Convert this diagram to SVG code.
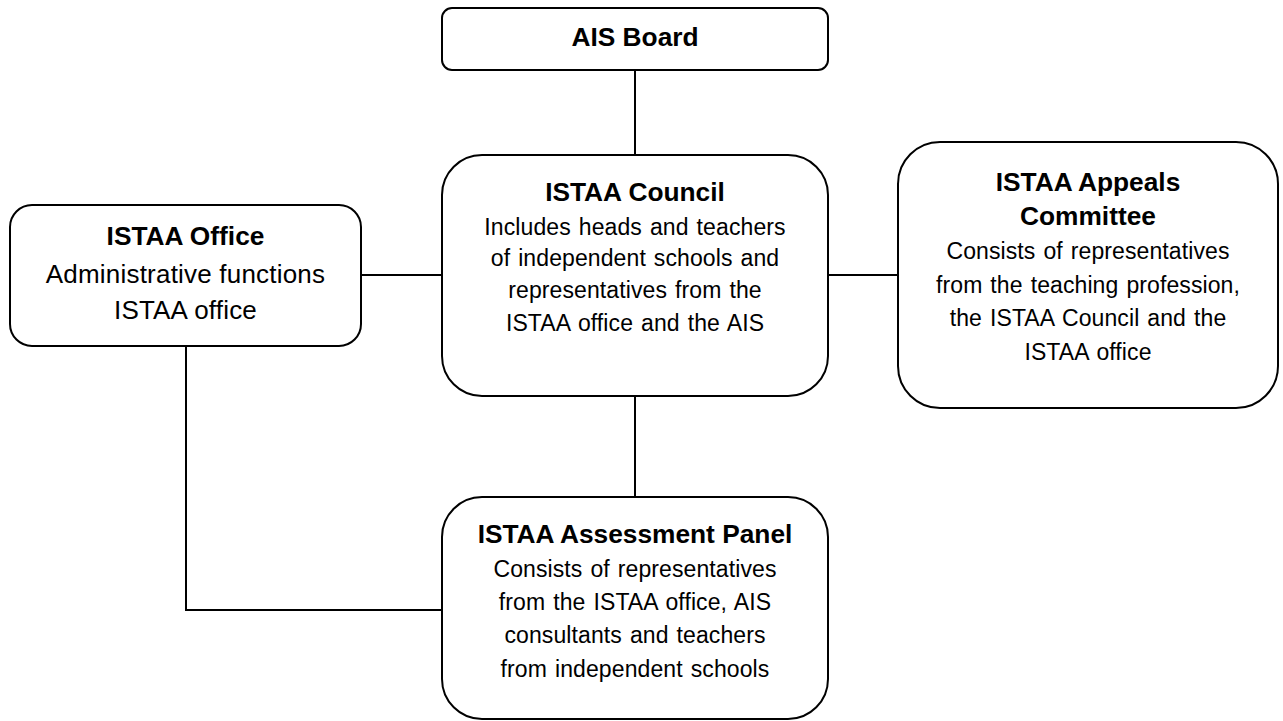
<svg xmlns="http://www.w3.org/2000/svg" width="1283" height="721" viewBox="0 0 1283 721">
  <style>
    .box { fill: #ffffff; stroke: #000000; stroke-width: 2; }
    .link { fill: none; stroke: #000000; stroke-width: 2; }
    text { font-family: "Liberation Sans", Arial, sans-serif; fill: #000000; text-anchor: middle; }
    .title { font-size: 26.3px; font-weight: bold; }
    .body { font-size: 23px; word-spacing: 1.5px; letter-spacing: 0.1px; }
    .body-lg { font-size: 26px; letter-spacing: 0.2px; }
  </style>
  <rect width="1283" height="721" fill="#ffffff"/>

  <!-- connectors -->
  <g id="connectors">
    <line class="link" x1="635" y1="70" x2="635" y2="155"/>
    <line class="link" x1="361" y1="275" x2="442" y2="275"/>
    <line class="link" x1="828" y1="275" x2="898" y2="275"/>
    <line class="link" x1="635" y1="396" x2="635" y2="497"/>
    <polyline class="link" points="186,346 186,610 442,610"/>
  </g>

  <!-- AIS Board -->
  <g id="ais-board">
    <rect class="box" x="442" y="8" width="386" height="62" rx="10" ry="10"/>
    <text class="title" x="635" y="46">AIS Board</text>
  </g>

  <!-- ISTAA Office -->
  <g id="istaa-office">
    <rect class="box" x="10" y="205" width="351" height="141" rx="22" ry="22"/>
    <text class="title" x="185.5" y="245">ISTAA Office</text>
    <text class="body-lg" x="185.5" y="283">Administrative functions</text>
    <text class="body-lg" x="185.5" y="319">ISTAA office</text>
  </g>

  <!-- ISTAA Council -->
  <g id="istaa-council">
    <rect class="box" x="442" y="155" width="386" height="241" rx="40" ry="40"/>
    <text class="title" x="635" y="201">ISTAA Council</text>
    <text class="body" x="635" y="235">Includes heads and teachers</text>
    <text class="body" x="635" y="266">of independent schools and</text>
    <text class="body" x="635" y="298">representatives from the</text>
    <text class="body" x="635" y="331">ISTAA office and the AIS</text>
  </g>

  <!-- ISTAA Appeals Committee -->
  <g id="istaa-appeals">
    <rect class="box" x="898" y="142" width="380" height="266" rx="42" ry="42"/>
    <text class="title" x="1088" y="191">ISTAA Appeals</text>
    <text class="title" x="1088" y="225">Committee</text>
    <text class="body" x="1088" y="259">Consists of representatives</text>
    <text class="body" x="1088" y="293">from the teaching profession,</text>
    <text class="body" x="1088" y="326">the ISTAA Council and the</text>
    <text class="body" x="1088" y="360">ISTAA office</text>
  </g>

  <!-- ISTAA Assessment Panel -->
  <g id="istaa-assessment">
    <rect class="box" x="442" y="497" width="386" height="222" rx="40" ry="40"/>
    <text class="title" x="635" y="543">ISTAA Assessment Panel</text>
    <text class="body" x="635" y="577">Consists of representatives</text>
    <text class="body" x="635" y="610">from the ISTAA office, AIS</text>
    <text class="body" x="635" y="643">consultants and teachers</text>
    <text class="body" x="635" y="677">from independent schools</text>
  </g>
</svg>
